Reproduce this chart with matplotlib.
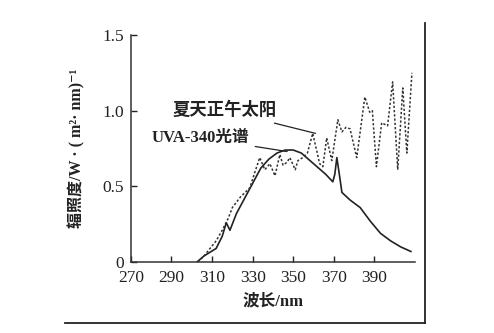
import matplotlib.pyplot as plt
from matplotlib.lines import Line2D

plt.rcParams['font.family'] = ['Liberation Serif', 'Noto Sans CJK SC', 'DejaVu Serif']

# UVA-340 lamp spectrum (solid)
uva_wl = [302.5, 306, 312, 315, 317, 318.8, 322, 326, 330, 334, 338, 342, 346,
          350, 354, 360, 366, 369.5, 370.5, 371.5, 372.5, 374, 378, 383, 388,
          393, 398, 403, 408]
uva_val = [0, 0.04, 0.09, 0.17, 0.26, 0.21, 0.32, 0.42, 0.52, 0.62, 0.68, 0.72,
           0.74, 0.74, 0.72, 0.65, 0.58, 0.53, 0.58, 0.69, 0.6, 0.46, 0.41, 0.36,
           0.27, 0.19, 0.14, 0.1, 0.07]

# summer noon sunlight (dotted)
sun_wl = [303, 306, 309, 312, 315, 318, 320, 324, 328.6, 331, 333.5, 336, 338.5,
          341, 343.4, 345, 347, 348.3, 351, 352.3, 354.7, 357, 359.6, 361.5, 363,
          364.6, 366.5, 369, 372, 374, 376, 378, 381.3, 385.3, 387.7, 389, 391,
          393.6, 396.5, 399, 401.5, 404, 406, 408.5]
sun_val = [0, 0.04, 0.09, 0.14, 0.21, 0.29, 0.36, 0.43, 0.49, 0.59, 0.69, 0.61, 0.65,
           0.57, 0.71, 0.64, 0.66, 0.69, 0.61, 0.67, 0.69, 0.72, 0.85, 0.74, 0.65,
           0.63, 0.82, 0.67, 0.94, 0.86, 0.89, 0.88, 0.69, 1.09, 0.99, 1.0, 0.63,
           0.92, 0.9, 1.19, 0.61, 1.15, 0.72, 1.25]

x_ticks = [270, 290, 310, 330, 350, 370, 390]
y_ticks = [0, 0.5, 1.0, 1.5]
y_tick_labels = ['0', '0.5', '1.0', '1.5']

fig = plt.figure(figsize=(4.94, 3.33), dpi=100)
ax = fig.add_axes([0.265, 0.213, 0.575, 0.682])

ax.plot(uva_wl, uva_val, color='#222222', lw=1.2)
ax.plot(sun_wl, sun_val, color='#333333', lw=1.1, linestyle=(0, (1.5, 1.3)))

ax.set_xlim(270, 410)
ax.set_ylim(0, 1.5)
ax.set_xticks(x_ticks)
ax.set_yticks(y_ticks)
ax.set_yticklabels(y_tick_labels)
ax.tick_params(direction='in', length=4, width=1, labelsize=12.5, colors='#222222')
ax.tick_params(axis='x', pad=6)
ax.tick_params(axis='y', pad=5)
ax.spines['top'].set_visible(False)
ax.spines['right'].set_visible(False)
for s in ['left', 'bottom']:
    ax.spines[s].set_linewidth(1.1)
    ax.spines[s].set_color('#333333')

ax.set_xlabel('波长/nm', fontsize=12, color='#222222', labelpad=5,
              fontweight='bold')
ax.set_ylabel('辐照度/W · ( m²· nm)⁻¹', fontsize=11.5, color='#222222',
              labelpad=12, fontweight='bold')

# annotations
ax.annotate('夏天正午太阳', xy=(361, 0.85), xytext=(316, 1.0),
            fontsize=12.5, fontweight='bold', color='#222222', va='center', ha='center',
            arrowprops=dict(arrowstyle='-', color='#222222', lw=0.9,
                            shrinkA=3, shrinkB=0))
ax.annotate('UVA-340光谱', xy=(347, 0.73), xytext=(304.5, 0.82),
            fontsize=12, fontweight='bold', color='#222222', va='center', ha='center',
            arrowprops=dict(arrowstyle='-', color='#222222', lw=0.9,
                            shrinkA=2, shrinkB=0))

# outer frame lines (right and bottom)
fig.add_artist(Line2D([65 / 494, 425 / 494], [1 - 323 / 333, 1 - 323 / 333],
                      transform=fig.transFigure, color='#222222', lw=1.3))
fig.add_artist(Line2D([425 / 494, 425 / 494], [1 - 323 / 333, 1 - 23 / 333],
                      transform=fig.transFigure, color='#222222', lw=1.3))

fig.savefig('out.png', dpi=100)
